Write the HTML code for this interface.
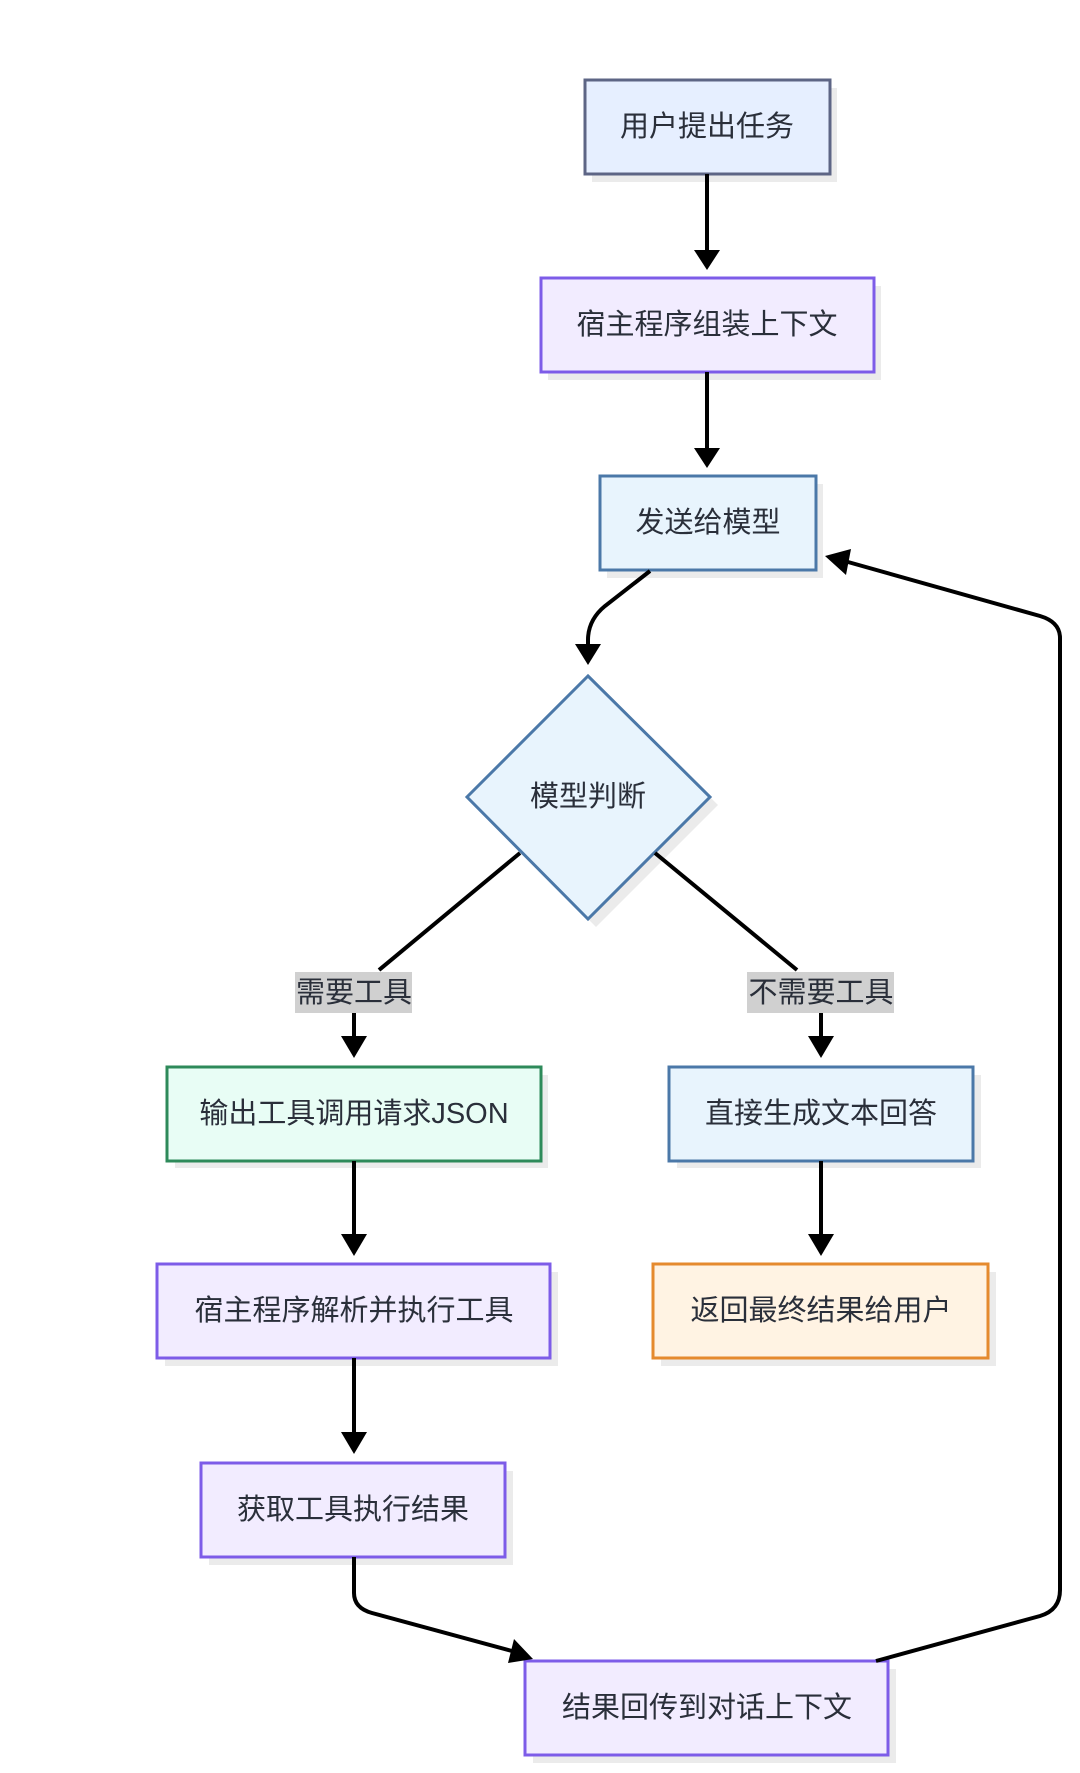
<!DOCTYPE html>
<html><head><meta charset="utf-8"><style>
html,body{margin:0;padding:0;background:#fff;}
svg{display:block;}
text{font-family:"Liberation Sans","Noto Sans CJK SC",sans-serif;font-size:29px;fill:#2a2f3a;text-anchor:middle;dominant-baseline:central;}
</style></head><body>
<svg width="1080" height="1773" viewBox="0 0 1080 1773" xmlns="http://www.w3.org/2000/svg">
<defs>
<marker id="ah" markerWidth="10" markerHeight="10" refX="9" refY="5" orient="auto" markerUnits="userSpaceOnUse" viewBox="0 0 10 10">
</marker>
</defs>
<g fill="#ebebeb">
<rect x="592" y="88" width="245" height="94"/>
<rect x="548" y="286" width="333" height="94"/>
<rect x="607" y="484" width="216" height="94"/>
<polygon points="596,684 718,805 596,927 475,805"/>
<rect x="175" y="1075" width="373" height="93"/>
<rect x="677" y="1075" width="304" height="93"/>
<rect x="165" y="1272" width="393" height="94"/>
<rect x="661" y="1272" width="335" height="94"/>
<rect x="209" y="1471" width="304" height="94"/>
<rect x="533" y="1669" width="363" height="94"/>
</g>
<rect x="585" y="80" width="245" height="94" fill="#e6efff" stroke="#5d6585" stroke-width="3"/>
<rect x="541" y="278" width="333" height="94" fill="#f2ecff" stroke="#7d5ce8" stroke-width="3"/>
<rect x="600" y="476" width="216" height="94" fill="#e8f4fd" stroke="#4b78a8" stroke-width="3"/>
<polygon points="588,676 710,797 588,919 467,797" fill="#e8f4fd" stroke="#4b78a8" stroke-width="3"/>
<rect x="167" y="1067" width="374" height="94" fill="#e8fdf5" stroke="#2e8a5a" stroke-width="3"/>
<rect x="669" y="1067" width="304" height="94" fill="#e8f4fd" stroke="#4b78a8" stroke-width="3"/>
<rect x="157" y="1264" width="393" height="94" fill="#f2ecff" stroke="#7d5ce8" stroke-width="3"/>
<rect x="653" y="1264" width="335" height="94" fill="#fff3e3" stroke="#e58a2e" stroke-width="3"/>
<rect x="201" y="1463" width="304" height="94" fill="#f2ecff" stroke="#7d5ce8" stroke-width="3"/>
<rect x="525" y="1661" width="363" height="94" fill="#f2ecff" stroke="#7d5ce8" stroke-width="3"/>
<g stroke="#000" stroke-width="4" fill="none">
<line x1="707" y1="174" x2="707" y2="250"/>
<line x1="707" y1="372" x2="707" y2="448"/>
<path d="M650,571 L605,606 Q588,620 588,640 L588,648"/>
<line x1="520" y1="853" x2="379" y2="970"/>
<line x1="655" y1="853" x2="797" y2="970"/>
<line x1="354" y1="1013" x2="354" y2="1036"/>
<line x1="821" y1="1013" x2="821" y2="1036"/>
<line x1="354" y1="1161" x2="354" y2="1234"/>
<line x1="821" y1="1161" x2="821" y2="1234"/>
<line x1="354" y1="1358" x2="354" y2="1432"/>
<path d="M354,1557 L354,1593 Q354,1608 372,1613 L512,1651"/>
<path d="M876,1661 L1040,1616 Q1060,1610 1060,1590 L1060,638 Q1060,622 1040,616 L848,562"/>
</g>
<g fill="#000">
<polygon points="694,250 720,250 707,270"/>
<polygon points="694,448 720,448 707,468"/>
<polygon points="575,644 601,644 588,665"/>
<polygon points="341,1036 367,1036 354,1058"/>
<polygon points="808,1036 834,1036 821,1058"/>
<polygon points="341,1234 367,1234 354,1256"/>
<polygon points="808,1234 834,1234 821,1256"/>
<polygon points="341,1432 367,1432 354,1454"/>
<polygon points="508,1663 514,1639 533,1659"/>
<polygon points="825,556 851,549 846,575"/>
</g>
<rect x="295" y="972" width="117" height="41" fill="#d0d0d0"/>
<rect x="747" y="972" width="147" height="41" fill="#d0d0d0"/>
<text x="707" y="127">用户提出任务</text>
<text x="707" y="325">宿主程序组装上下文</text>
<text x="708" y="523">发送给模型</text>
<text x="588" y="797">模型判断</text>
<text x="354" y="993">需要工具</text>
<text x="821" y="993">不需要工具</text>
<text x="354" y="1114">输出工具调用请求JSON</text>
<text x="821" y="1114">直接生成文本回答</text>
<text x="354" y="1311">宿主程序解析并执行工具</text>
<text x="821" y="1311">返回最终结果给用户</text>
<text x="353" y="1510">获取工具执行结果</text>
<text x="707" y="1708">结果回传到对话上下文</text>
</svg>
</body></html>
